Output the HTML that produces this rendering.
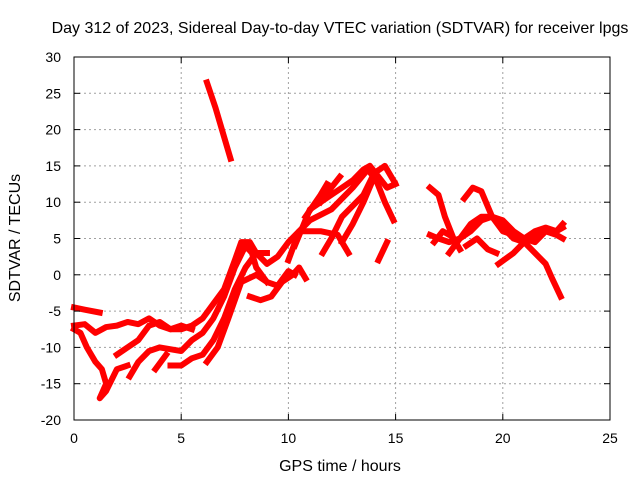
<!DOCTYPE html>
<html><head><meta charset="utf-8"><style>
body{margin:0;background:#fff;}
svg{display:block;font-family:"Liberation Sans",sans-serif;}
</style></head><body>
<svg id="chart" width="640" height="480" viewBox="0 0 640 480">
<text x="340" y="33" font-size="16" text-anchor="middle">Day 312 of 2023, Sidereal Day-to-day VTEC variation (SDTVAR) for receiver lpgs</text>
<text transform="translate(20,238) rotate(-90)" font-size="16" text-anchor="middle">SDTVAR / TECUs</text>
<text x="340" y="471" font-size="16" text-anchor="middle">GPS time / hours</text>
<g id="grid"></g>
<g id="series"></g>
<rect x="74" y="57" width="536" height="363" fill="none" stroke="#000" stroke-width="1"/>
<g id="ticks"></g>
</svg>
<script>
const xTicks=[0,5,10,15,20,25];
const yTicks=[-20,-15,-10,-5,0,5,10,15,20,25,30];
const arcA=[[6.2,26.5],[6.6,23],[7.0,19],[7.3,16]];
const arcB=[[0,-4.5],[0.5,-4.8],[1.2,-5.2]];
const arcC=[[0,-7],[0.5,-6.8],[1,-8],[1.5,-7.2],[2,-7],[2.5,-6.5],[3,-6.8],[3.5,-6],[4,-7],[4.5,-7.5],[5,-7.5],[5.5,-7],[6,-6],[6.5,-4],[7,-2],[7.5,2],[7.8,4.5],[8.2,4.5],[8.5,3],[9,1.5],[9.5,2.5],[10,4.5],[10.5,6],[11.5,6],[12.3,5.5],[12.8,3]];
const arcD=[[0,-7.5],[0.3,-8],[0.6,-10],[1,-12],[1.3,-13],[1.5,-15],[1.2,-17],[1.5,-16],[2,-13],[2.5,-12.5]];
const arcE=[[2,-11],[2.5,-10],[3,-9],[3.5,-7],[4,-6.5],[4.5,-7.5],[5,-7],[5.5,-7.5]];
const arcF=[[2.6,-14],[3,-12],[3.5,-10.5],[4,-10],[5,-10.5],[5.5,-9],[6,-8],[6.5,-6],[7,-3],[7.5,1],[8,4],[8.3,3],[8.5,1],[9,-1]];
const arcG=[[3.8,-13],[4.3,-11]];
const arcH=[[4.5,-12.5],[5,-12.5],[5.5,-11.5],[6,-11],[6.5,-9],[7,-6],[7.5,-2],[8,1],[8.5,3],[9,3]];
const arcI=[[6.2,-12],[6.7,-10],[7.2,-6],[7.8,-1],[8.5,0],[9,-1],[9.5,-1.5],[10,0.5],[10.3,0]];
const arcJ=[[8.2,-3],[8.7,-3.5],[9.2,-3],[9.7,-1],[10.2,0],[10.5,1],[10.8,-0.5]];
const arcK=[[10,2],[10.5,6],[11,7.5],[12,9],[13,12],[13.7,14.5],[14.1,13],[14.5,10],[14.9,7.5]];
const arcL=[[10.3,4],[11,9],[12,11],[12.5,12],[13,13],[13.5,14.5],[13.8,15],[14.2,13.5],[14.6,12],[15,12.5]];
const arcM=[[10.8,8],[11.5,11],[11.8,12.5]];
const arcN=[[11.5,10],[12,12],[12.4,13.5]];
const arcO=[[11.6,3],[12,5],[12.5,8],[13.5,11],[14,14],[14.5,15],[14.9,13]];
const arcP=[[12.5,4.5],[13,7],[13.5,10],[14,13.5]];
const arcQ=[[14.2,2],[14.6,4.5]];
const arcR=[[16.6,12],[17,11],[17.3,8],[17.7,5],[18,3.5]];
const arcS=[[16.6,5.5],[17,5],[17.5,4.5],[18,5],[18.5,6],[19,7.5],[19.5,8],[20,7.5],[20.5,6],[21,5],[21.5,4.5],[22,6],[22.5,5.5],[22.8,5]];
const arcT=[[17.5,3],[18,5],[18.5,7],[19,8],[19.5,8],[20,6.5],[20.5,5],[21,4.5],[21.5,3],[22,1.5],[22.3,-0.5],[22.7,-3]];
const arcU=[[18.2,10.5],[18.6,12],[19,11.5],[19.5,8],[20,6],[20.5,5.5],[21,5],[21.5,6],[22,6.5],[22.5,6],[22.8,6.5]];
const arcV=[[18.3,4],[18.8,5],[19.3,3.5],[19.7,3]];
const arcW=[[19.8,1.5],[20.5,3],[21,4.5],[21.5,5.5],[22,6],[22.5,6],[22.8,7]];
const arcX=[[16.8,4.5],[17.2,6],[17.5,5.5]];
const arcs=[arcA,arcB,arcC,arcD,arcE,arcF,arcG,arcH,arcI,arcJ,arcK,arcL,arcM,arcN,arcO,arcP,arcQ,arcR,arcS,arcT,arcU,arcV,arcW,arcX];

const X0=74,X1=610,Y0=420,Y1=57;
const sx=v=>X0+(v-0)/(25-0)*(X1-X0);
const sy=v=>Y0-(v+20)/(30+20)*(Y0-Y1);
const NS="http://www.w3.org/2000/svg";
const grid=document.getElementById('grid'),ticks=document.getElementById('ticks'),series=document.getElementById('series');
function mk(tag,attrs,parent){const e=document.createElementNS(NS,tag);for(const k in attrs)e.setAttribute(k,attrs[k]);parent.appendChild(e);return e;}
xTicks.forEach(t=>{
  const x=sx(t);
  if(t>0&&t<25){const g=mk('line',{x1:x,x2:x,y1:Y1,y2:Y0,stroke:'#a0a0a0','stroke-dasharray':'2,3'},grid);
  
  }
  mk('line',{x1:x,x2:x,y1:Y0,y2:Y0-6,stroke:'#000'},ticks);
  mk('line',{x1:x,x2:x,y1:Y1,y2:Y1+6,stroke:'#000'},ticks);
  const l=mk('text',{x:x,y:443,'font-size':14,'text-anchor':'middle'},ticks);
  l.textContent=t;
  
  
});
yTicks.forEach(t=>{
  const y=sy(t);
  if(t>-20&&t<30){const g=mk('line',{x1:X0,x2:X1,y1:y,y2:y,stroke:'#a0a0a0','stroke-dasharray':'2,3'},grid);
  
  }
  mk('line',{x1:X0,x2:X0+6,y1:y,y2:y,stroke:'#000'},ticks);
  mk('line',{x1:X1,x2:X1-6,y1:y,y2:y,stroke:'#000'},ticks);
  const l=mk('text',{x:61,y:y+5,'font-size':14,'text-anchor':'end'},ticks);
  l.textContent=t;
  
  
});
arcs.forEach(a=>{
  const p=mk('polyline',{points:a.map(d=>sx(d[0])+','+sy(d[1])).join(' '),fill:'none',stroke:'#ff0000','stroke-width':6,'stroke-linejoin':'round','stroke-linecap':'square'},series);
  
  
});
</script>
</body></html>
